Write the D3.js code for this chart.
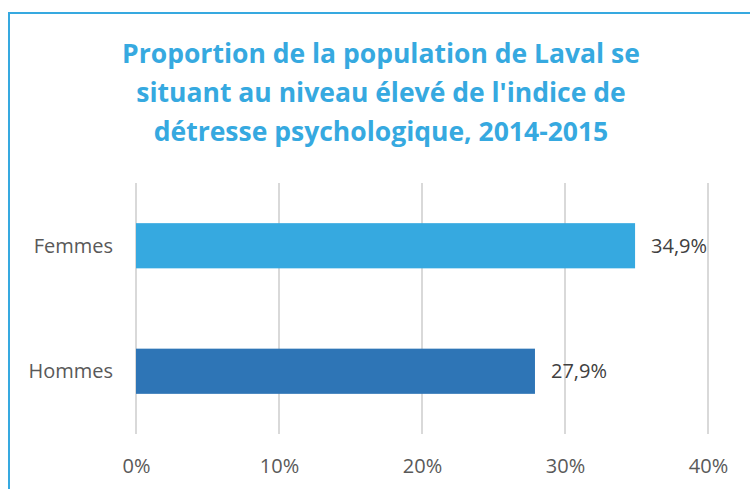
<!DOCTYPE html>
<html>
<head>
<meta charset="utf-8">
<script src="https://cdn.jsdelivr.net/npm/d3@7"></script>
<style>
    body { margin: 0; background: #fff; }
    svg { display: block; }
</style>
</head>
<body>
<script>
const categories = ['Femmes', 'Hommes'];
const values = [34.9, 27.9];
const valueLabels = ['34,9%', '27,9%'];
const ticks = [0, 10, 20, 30, 40];
const tickLabels = ['0%', '10%', '20%', '30%', '40%'];
const titleLines = [
    'Proportion de la population de Laval se',
    'situant au niveau élevé de l\'indice de',
    'détresse psychologique, 2014-2015'
];
const colors = ['#36a9e0', '#2e75b6'];

const SETTINGS = {
    width: 750,
    height: 489,
    plot: { left: 136, right: 708, top: 183, bottom: 434 }
};

class barChart {
    constructor(settings){
        this.settings = settings;
        this.svg = d3.select('body')
                        .append('svg')
                        .attr('width', settings.width)
                        .attr('height', settings.height);
        this.x = d3.scaleLinear().domain([0, 40]).range([settings.plot.left, settings.plot.right]);
        this.y = d3.scaleBand()
                        .domain(categories)
                        .range([settings.plot.top, settings.plot.bottom])
                        .paddingInner(0.64)
                        .paddingOuter(0.32);
        this.drawFrame();
        this.drawTitle();
        this.drawGrid();
        this.drawBars();
        this.drawLabels();
    }
    drawFrame(){
        // outer border, right and bottom edges are cut off in the original
        this.svg.append('rect')
                .attr('x', 9)
                .attr('y', 13)
                .attr('width', 800)
                .attr('height', 600)
                .attr('fill', '#fff')
                .attr('stroke', '#36a9e0')
                .attr('stroke-width', 2);
    }
    drawTitle(){
        this.svg.append('g')
                .selectAll('text')
                .data(titleLines)
                .enter()
                .append('text')
                .attr('x', 381)
                .attr('y', (d, i) => 63 + i * 39)
                .attr('text-anchor', 'middle')
                .attr('font-family', '"Open Sans", sans-serif')
                .attr('font-weight', 'bold')
                .attr('font-size', 26.5)
                .attr('fill', '#36a9e0')
                .text(d => d);
    }
    drawGrid(){
        let plot = this.settings.plot;
        this.svg.append('g')
                .selectAll('line')
                .data(ticks)
                .enter()
                .append('line')
                .attr('x1', d => this.x(d))
                .attr('x2', d => this.x(d))
                .attr('y1', plot.top)
                .attr('y2', plot.bottom)
                .attr('stroke', '#d9d9d9')
                .attr('stroke-width', 2);

        let axis = d3.axisBottom(this.x)
                        .tickValues(ticks)
                        .tickFormat((d, i) => tickLabels[i])
                        .tickSize(0)
                        .tickPadding(25);
        let g = this.svg.append('g')
                .attr('transform', 'translate(0,' + plot.bottom + ')')
                .call(axis);
        g.select('.domain').remove();
        g.selectAll('text')
                .attr('font-family', '"Open Sans", sans-serif')
                .attr('font-size', 20)
                .attr('fill', '#595959');
    }
    drawBars(){
        this.svg.append('g')
                .selectAll('rect')
                .data(values)
                .enter()
                .append('rect')
                .attr('x', this.x(0))
                .attr('y', (d, i) => this.y(categories[i]))
                .attr('width', d => this.x(d) - this.x(0))
                .attr('height', this.y.bandwidth())
                .attr('fill', (d, i) => colors[i]);
    }
    drawLabels(){
        let half = this.y.bandwidth() / 2;
        this.svg.append('g')
                .selectAll('text')
                .data(categories)
                .enter()
                .append('text')
                .attr('x', 113)
                .attr('y', d => this.y(d) + half)
                .attr('dy', '0.35em')
                .attr('text-anchor', 'end')
                .attr('font-family', '"Open Sans", sans-serif')
                .attr('font-size', 20)
                .attr('fill', '#595959')
                .text(d => d);

        this.svg.append('g')
                .selectAll('text')
                .data(values)
                .enter()
                .append('text')
                .attr('x', d => this.x(d) + 16)
                .attr('y', (d, i) => this.y(categories[i]) + half)
                .attr('dy', '0.35em')
                .attr('font-family', '"Open Sans", sans-serif')
                .attr('font-size', 20)
                .attr('fill', '#404040')
                .text((d, i) => valueLabels[i]);
    }
}

let chart = new barChart(SETTINGS);
</script>
</body>
</html>
